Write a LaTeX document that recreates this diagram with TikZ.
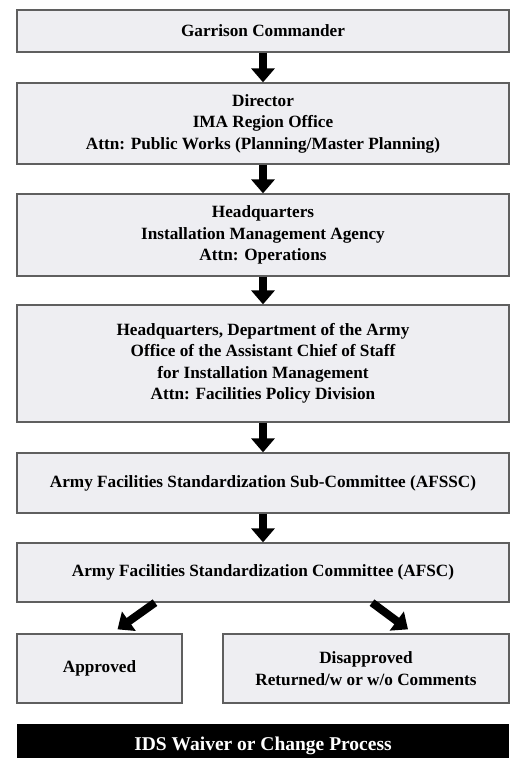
\documentclass[tikz,border=0pt]{standalone}
\usepackage{fontspec}
\setmainfont{Liberation Serif}
\usepackage{tikz}
\usetikzlibrary{arrows.meta,positioning,calc}

\definecolor{boxfill}{RGB}{238,238,242}
\definecolor{boxline}{RGB}{95,95,95}

\tikzset{
  stagebox/.style = {rectangle, draw = boxline, fill = boxfill, line width = 1.3pt,
    align = center, inner sep = 0pt,
    font = \bfseries\fontsize{17.2}{21.5}\selectfont},
  wide/.style = {stagebox, minimum width = 492pt},
  flow/.style = {line width = 8pt, -{Triangle[width = 23pt, length = 14pt]}}
}

\begin{document}
\begin{tikzpicture}[x = 1pt, y = -1pt]
          \clip (0,0) rectangle (513,758);
          \fill[white] (0,0) rectangle (513,758);
          \node[wide, minimum height = 42pt] (commander) at (263,31)
            {Garrison Commander};
          \node[wide, minimum height = 81pt] (region) at (263,123.5)
            {Director\\IMA Region Office\\Attn: Public Works (Planning/Master Planning)};
          \node[wide, minimum height = 82pt] (imahq) at (263,235)
            {Headquarters\\Installation Management Agency\\Attn: Operations};
          \node[wide, minimum height = 117pt] (hqda) at (263,363.5)
            {Headquarters, Department of the Army\\Office of the Assistant Chief of Staff\\
             for Installation Management\\Attn: Facilities Policy Division};
          \node[wide, minimum height = 60pt] (afssc) at (263,483)
            {Army Facilities Standardization Sub-Committee (AFSSC)};
          \node[wide, minimum height = 59pt] (afsc) at (263,572.5)
            {Army Facilities Standardization Committee (AFSC)};
          \node[stagebox, minimum width = 165pt, minimum height = 69pt] (approved)
            at (99.5,668.5) {Approved};
          \node[stagebox, minimum width = 286pt, minimum height = 69pt] (disapproved)
            at (366,668.5) {Disapproved\\Returned/w or w/o Comments};
          \node[rectangle, fill = black, text = white, minimum width = 492pt,
            minimum height = 44pt, font = \bfseries\fontsize{19.5}{22}\selectfont]
            (process) at (263,746) {IDS Waiver or Change Process};

          \draw[flow] (commander) -- (region);
          \draw[flow] (region) -- (imahq);
          \draw[flow] (imahq) -- (hqda);
          \draw[flow] (hqda) -- (afssc);
          \draw[flow] (afssc) -- (afsc);
          \draw[flow] ([xshift = -108pt]afsc.south) -- ([xshift = 18pt, yshift = 4pt]approved.north);
          \draw[flow] ([xshift = 109pt]afsc.south) -- ([xshift = 42pt, yshift = 4pt]disapproved.north);
        \end{tikzpicture}
\end{document}
